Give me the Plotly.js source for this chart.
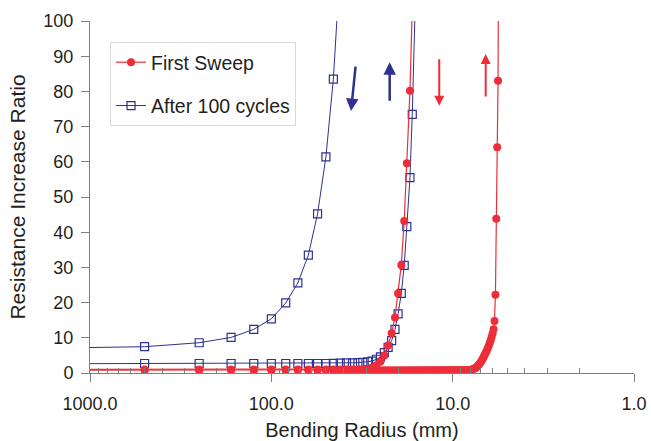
<!DOCTYPE html>
<html>
<head>
<meta charset="utf-8">
<script src="https://cdn.plot.ly/plotly-3.0.1.min.js"></script>
<style>html,body{margin:0;padding:0;background:#fff;}#chart{width:651px;height:441px;}</style>
</head>
<body>
<div id="chart"></div>
<script>
// Bending radius grid (mm) shared by all sweeps
const RADII = [500, 250, 166.7, 125, 100, 83.3, 71.4, 62.5, 55.6, 50, 45.5, 41.7, 38.5, 35.7, 33.3, 31.3, 29.4, 27.8, 26.3, 25,
  23.8, 22.7, 21.7, 20.8, 20, 19.2, 18.5, 17.9, 17.2, 16.7, 16.1, 15.6, 15.2, 14.7, 14.3, 13.9, 13.5, 13.2, 12.8, 12.5,
  12.2, 11.9, 11.6, 11.4, 11.1, 10.9, 10.6, 10.4, 10.2, 10, 9.8, 9.62, 9.43, 9.26, 9.09, 8.93, 8.77, 8.62, 8.47, 8.33,
  8.2, 8.06, 7.94, 7.81, 7.69, 7.58, 7.46, 7.35, 7.25, 7.14, 7.04, 6.94, 6.85, 6.76, 6.67, 6.58, 6.49, 6.41, 6.33, 6.25,
  6.17, 6.1, 6.02, 5.95, 5.88, 5.81, 5.75, 5.68, 5.62, 5.56];
const LEAD_RADIUS = 2000; // line enters from beyond the left edge

// First Sweep, branch rising near 17 mm
const firstSweepA = [1.0, 1.0, 1.0, 1.0, 1.0, 1.0, 1.0, 1.0, 1.0, 1.0, 1.0, 1.0, 1.0, 1.0, 1.0, 1.05, 1.15, 1.5, 2.2, 3.3,
  5.0, 7.8, 11.3, 15.8, 22.6, 30.7, 43.2, 59.6, 80.2, 104];
const firstSweepALead = 1.0;
// First Sweep, branch rising near 5.7 mm
const firstSweepB = [0.8, 0.8, 0.8, 0.8, 0.8, 0.8, 0.8, 0.8, 0.8, 0.8, 0.8, 0.8, 0.8, 0.8, 0.8, 0.8, 0.8, 0.8, 0.8, 0.8,
  0.8, 0.8, 0.8, 0.8, 0.8, 0.8, 0.8, 0.8, 0.8, 0.8, 0.8, 0.8, 0.8, 0.8, 0.8, 0.8, 0.8, 0.8, 0.8, 0.8,
  0.8, 0.8, 0.8, 0.8, 0.8, 0.8, 0.8, 0.8, 0.8, 0.8, 0.8, 0.8, 0.8, 0.8, 0.8, 0.8, 0.8, 0.8, 0.8, 0.8,
  0.8, 0.8, 0.9, 1.0, 1.15, 1.3, 1.5, 1.75, 2.1, 2.5, 2.9, 3.4, 3.9, 4.5, 5.1, 5.7, 6.3, 7.0, 7.7, 8.5,
  9.3, 10.2, 11.2, 12.4, 14.8, 22.2, 43.8, 64.1, 83.0, 150];
const firstSweepBLead = 0.8;
// After 100 cycles, branch rising near 50 mm
const after100A = [7.47, 8.6, 10.1, 12.4, 15.4, 19.9, 25.6, 33.5, 45.2, 61.4, 83.5, 116];
const after100ALead = 7.0;
// After 100 cycles, branch rising near 17 mm
const after100B = [2.7, 2.7, 2.7, 2.7, 2.7, 2.7, 2.7, 2.7, 2.7, 2.7, 2.75, 2.8, 2.85, 2.9, 2.95, 3.0, 3.2, 3.4, 3.9, 4.6,
  5.8, 7.3, 9.2, 12.4, 16.8, 22.6, 30.6, 41.6, 55.5, 73.5, 104];
const after100BLead = 2.6;

const xTickVals = [1000, 100, 10, 1];
const xTickText = ['1000.0', '100.0', '10.0', '1.0'];
const xMinorVals = [900, 800, 700, 600, 500, 400, 300, 200, 90, 80, 70, 60, 50, 40, 30, 20, 9, 8, 7, 6, 5, 4, 3, 2];
const yTickVals = [0, 10, 20, 30, 40, 50, 60, 70, 80, 90, 100];

const RED = '#ED2E38';
const BLUE = '#2E3192';
const FONT = 'Liberation Sans, Arial, sans-serif';
const TXT = '#231F20';

function xs(vals) { return [LEAD_RADIUS].concat(RADII.slice(0, vals.length)); }

const redMarker = {symbol: 'circle', size: 8, color: RED, line: {width: 0}};
const blueMarker = {symbol: 'square-open', size: 8, color: BLUE, line: {width: 1.2, color: BLUE}};

const traces = [
  {x: xs(after100A), y: [after100ALead].concat(after100A), mode: 'lines+markers', name: 'After 100 cycles',
   legendgroup: 'b', legendrank: 2, showlegend: true, line: {color: BLUE, width: 1}, marker: blueMarker},
  {x: xs(after100B), y: [after100BLead].concat(after100B), mode: 'lines+markers', name: 'After 100 cycles',
   legendgroup: 'b', legendrank: 2, showlegend: false, line: {color: BLUE, width: 1}, marker: blueMarker},
  {x: xs(firstSweepA), y: [firstSweepALead].concat(firstSweepA), mode: 'lines+markers', name: 'First Sweep',
   legendgroup: 'a', legendrank: 1, showlegend: true, line: {color: RED, width: 1.2}, marker: redMarker},
  {x: xs(firstSweepB), y: [firstSweepBLead].concat(firstSweepB), mode: 'lines+markers', name: 'First Sweep',
   legendgroup: 'a', legendrank: 1, showlegend: false, line: {color: RED, width: 1.2}, marker: redMarker}
];

function arrow(px, py, ax, ay, color, w) {
  return {xref: 'paper', yref: 'paper', x: px, y: py, ax: ax, ay: ay, text: '', showarrow: true,
          arrowhead: 2, arrowsize: 1, arrowwidth: w, arrowcolor: color, standoff: 0, startstandoff: 0};
}

const layout = {
  width: 651, height: 441,
  margin: {l: 90, r: 17, t: 21, b: 68, pad: 0},
  paper_bgcolor: '#fff', plot_bgcolor: '#fff',
  font: {family: FONT, color: TXT, size: 18},
  showlegend: true,
  legend: {x: 0.0368, y: 0.9403, xanchor: 'left', yanchor: 'top', bgcolor: '#fff',
           bordercolor: '#D9D9D9', borderwidth: 1, traceorder: 'grouped', tracegroupgap: 15,
           font: {family: FONT, size: 19.5, color: TXT}},
  xaxis: {type: 'log', range: [3, 0], showgrid: false, zeroline: false,
          showline: true, linecolor: '#7F7F7F', linewidth: 1,
          tickmode: 'array', tickvals: xTickVals, ticktext: xTickText,
          ticks: 'outside', ticklen: 8, tickcolor: '#7F7F7F', tickwidth: 1, ticklabelstandoff: 6,
          tickfont: {family: FONT, size: 18, color: TXT},
          minor: {tickmode: 'array', tickvals: xMinorVals, ticks: 'inside', ticklen: 5, tickcolor: '#7F7F7F', tickwidth: 1, showgrid: false},
          title: {text: 'Bending Radius (mm)', font: {family: FONT, size: 20, color: TXT}, standoff: 11}},
  yaxis: {range: [0, 100], showgrid: false, zeroline: false,
          showline: true, linecolor: '#7F7F7F', linewidth: 1,
          tickmode: 'array', tickvals: yTickVals,
          ticks: 'outside', ticklen: 8, tickcolor: '#7F7F7F', tickwidth: 1, ticklabelstandoff: 4,
          tickfont: {family: FONT, size: 18, color: TXT},
          title: {text: 'Resistance Increase Ratio', font: {family: FONT, size: 21, color: TXT}, standoff: 12}},
  annotations: [
    arrow(0.4798, 0.744, 4.7, -46, BLUE, 2.5),
    arrow(0.5509, 0.8826, 0, 40, BLUE, 2.5),
    arrow(0.6420, 0.7594, 0, -48, RED, 2),
    arrow(0.7274, 0.9063, 0, 44, RED, 2)
  ]
};

Plotly.newPlot('chart', traces, layout, {staticPlot: true, displayModeBar: false});
</script>
</body>
</html>
